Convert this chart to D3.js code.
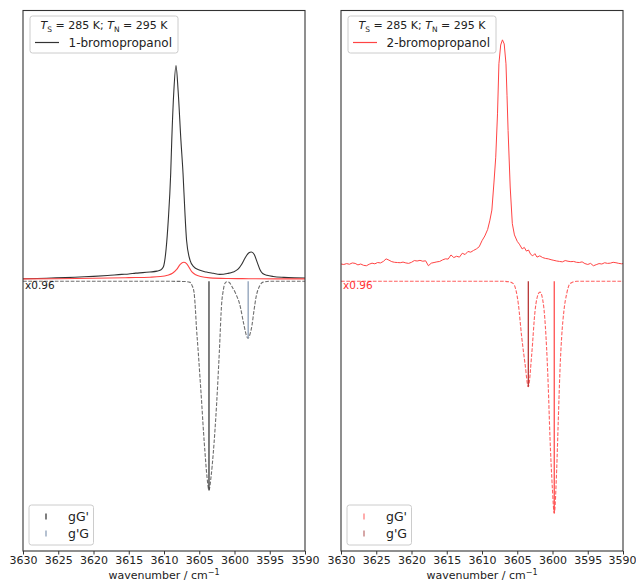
<!DOCTYPE html>
<html><head><meta charset="utf-8">
<script src="https://cdn.jsdelivr.net/npm/d3@7"></script>
<style>body{margin:0;background:#fff;} svg{font-family:"DejaVu Sans",sans-serif;}</style>
</head><body><svg id="c" width="636" height="581"></svg>
<script>
// ---------- data ----------
const xTicks = [3630, 3625, 3620, 3615, 3610, 3605, 3600, 3595, 3590];
const xDomain = [3630, 3590];
const yDomain = [-1.25, 1.255];

// 1-bromopropanol experimental (black)
const bp1Exp = [[3630.0,0.012],[3628.0,0.013],[3626.0,0.015],[3624.0,0.017],[3622.0,0.020],[3620.0,0.023],[3618.0,0.027],[3616.0,0.032],[3615.0,0.034],[3614.0,0.038],[3613.0,0.040],[3612.0,0.043],[3611.0,0.047],[3610.5,0.052],[3610.1,0.066],[3609.7,0.15],[3609.4,0.28],[3609.05,0.50],[3608.9,0.653],[3608.6,0.884],[3608.3,1.0],[3608.0,0.884],[3607.6,0.653],[3607.3,0.50],[3607.05,0.33],[3606.8,0.19],[3606.3,0.097],[3605.8,0.068],[3605.0,0.052],[3604.0,0.043],[3603.0,0.037],[3602.1,0.032],[3601.0,0.036],[3600.2,0.043],[3599.5,0.056],[3599.0,0.078],[3598.5,0.108],[3598.0,0.131],[3597.6,0.136],[3597.2,0.124],[3596.8,0.090],[3596.4,0.055],[3596.0,0.036],[3595.4,0.028],[3594.5,0.022],[3593.0,0.018],[3591.5,0.016],[3590.0,0.015]];
// 2-bromopropanol trace shown in the 1-bromopropanol panel (red)
const bp1Ref = [[3630.0,0.011],[3625.0,0.012],[3620.0,0.014],[3615.0,0.017],[3612.0,0.019],[3610.5,0.022],[3609.5,0.028],[3608.8,0.037],[3608.2,0.055],[3607.7,0.078],[3607.2,0.088],[3606.8,0.082],[3606.4,0.062],[3606.0,0.042],[3605.5,0.030],[3604.8,0.022],[3603.5,0.016],[3601.0,0.013],[3598.0,0.012],[3594.0,0.011],[3590.0,0.011]];
// 1-bromopropanol simulated (x0.96)
const bp1Sim = [[3630.0,0],[3610.0,0],[3607.0,-0.001],[3606.3,-0.005],[3606.03,-0.019],[3605.74,-0.051],[3605.6,-0.102],[3605.39,-0.218],[3605.13,-0.333],[3604.89,-0.449],[3604.65,-0.565],[3604.43,-0.681],[3604.18,-0.796],[3603.9,-0.907],[3603.62,-0.968],[3603.33,-0.907],[3603.01,-0.796],[3602.53,-0.565],[3602.16,-0.333],[3601.82,-0.102],[3601.59,-0.042],[3601.35,-0.009],[3601.06,-0.002],[3600.78,-0.004],[3600.35,-0.025],[3599.79,-0.060],[3599.3,-0.102],[3598.65,-0.204],[3598.37,-0.245],[3598.09,-0.264],[3597.8,-0.245],[3597.52,-0.204],[3597.23,-0.134],[3596.95,-0.075],[3596.38,-0.018],[3595.95,-0.004],[3595.0,0],[3590.0,0]];
const bp1Sticks = [{label:"gG'", wn:3603.62, value:-0.968}, {label:"g'G", wn:3598.06, value:-0.264}];

// 2-bromopropanol experimental (red, noisy)
const bp2Exp = [[3630.0,0.080],[3629.6,0.078],[3629.2,0.082],[3628.8,0.079],[3628.4,0.085],[3628.0,0.083],[3627.6,0.076],[3627.2,0.080],[3626.8,0.074],[3626.4,0.072],[3626.0,0.079],[3625.6,0.084],[3625.2,0.081],[3624.8,0.087],[3624.4,0.085],[3624.0,0.092],[3623.6,0.104],[3623.2,0.098],[3622.8,0.091],[3622.4,0.088],[3622.0,0.087],[3621.6,0.086],[3621.2,0.089],[3620.8,0.085],[3620.4,0.083],[3620.0,0.088],[3619.6,0.096],[3619.2,0.094],[3618.8,0.097],[3618.4,0.093],[3618.0,0.095],[3617.6,0.072],[3617.2,0.084],[3616.8,0.087],[3616.4,0.090],[3616.0,0.092],[3615.6,0.099],[3615.2,0.104],[3614.8,0.103],[3614.4,0.122],[3614.0,0.110],[3613.6,0.116],[3613.2,0.112],[3612.8,0.130],[3612.4,0.124],[3612.0,0.138],[3611.6,0.135],[3611.2,0.143],[3610.8,0.150],[3610.4,0.160],[3610.0,0.188],[3609.6,0.210],[3609.2,0.240],[3608.9,0.280],[3608.6,0.330],[3608.3,0.460],[3608.05,0.575],[3607.8,0.776],[3607.6,1.008],[3607.35,1.095],[3607.1,1.119],[3606.85,1.100],[3606.6,1.008],[3606.45,0.860],[3606.3,0.699],[3606.0,0.437],[3605.7,0.267],[3605.4,0.215],[3605.0,0.185],[3604.7,0.172],[3604.3,0.150],[3604.0,0.157],[3603.7,0.140],[3603.4,0.145],[3603.1,0.125],[3602.8,0.118],[3602.5,0.128],[3602.2,0.112],[3601.8,0.118],[3601.4,0.110],[3601.0,0.106],[3600.6,0.104],[3600.2,0.100],[3599.8,0.097],[3599.4,0.094],[3599.0,0.092],[3598.6,0.090],[3598.2,0.096],[3597.8,0.093],[3597.4,0.091],[3597.0,0.092],[3596.6,0.088],[3596.2,0.087],[3595.8,0.090],[3595.4,0.082],[3595.0,0.078],[3594.6,0.083],[3594.2,0.072],[3593.8,0.077],[3593.4,0.082],[3593.0,0.080],[3592.6,0.086],[3592.2,0.083],[3591.8,0.084],[3591.4,0.088],[3591.0,0.086],[3590.6,0.083],[3590.2,0.081],[3590.0,0.082]];
// 2-bromopropanol simulated (x0.96)
const bp2Sim = [[3630.0,0],[3607.0,0],[3606.2,-0.002],[3605.56,-0.011],[3604.85,-0.104],[3604.37,-0.258],[3603.9,-0.381],[3603.43,-0.489],[3602.95,-0.339],[3602.48,-0.139],[3602.01,-0.058],[3601.77,-0.050],[3601.3,-0.104],[3600.92,-0.258],[3600.6,-0.489],[3600.36,-0.720],[3600.03,-0.952],[3599.75,-1.075],[3599.41,-0.875],[3599.18,-0.644],[3598.94,-0.412],[3598.7,-0.258],[3598.37,-0.134],[3597.99,-0.058],[3597.52,-0.011],[3596.57,0],[3590.0,0]];
const bp2Sticks = [{label:"g'G", wn:3603.43, value:-0.489}, {label:"gG'", wn:3599.75, value:-1.075}];

const legendTitle = ["T", "S", " = 285 K; ", "T", "N", " = 295 K"];
const seriesNames = ["1-bromopropanol", "2-bromopropanol"];
const scaleNote = "x0.96";

// ---------- drawing ----------
const svg = d3.select("#c");
const plotTop = 10.5, plotBottom = 551;
const y = d3.scaleLinear().domain(yDomain).range([plotBottom, plotTop]);

const panels = [
  {x0:23, x1:305, exp:[{d:bp1Exp,c:"#333333",w:1.1,curve:d3.curveMonotoneX},{d:bp1Ref,c:"#ff4444",w:1.1,curve:d3.curveMonotoneX}],
   sim:bp1Sim, simColor:"#555555", noteColor:"#222",
   sticks:bp1Sticks, stickColors:{"gG'":"#3a3a3a","g'G":"#8da0b8"},
   legendOrder:["gG'","g'G"], name:seriesNames[0], nameColor:"#333333"},
  {x0:341, x1:623, exp:[{d:bp2Exp,c:"#ff4444",w:1.0,curve:d3.curveLinear}],
   sim:bp2Sim, simColor:"#ff4444", noteColor:"#ff3333",
   sticks:bp2Sticks, stickColors:{"gG'":"#ff5050","g'G":"#b83535"},
   legendColors:{"gG'":"#ff8080","g'G":"#c07878"},
   legendOrder:["gG'","g'G"], name:seriesNames[1], nameColor:"#ff4444"}
];

panels.forEach((p, i) => {
  const x = d3.scaleLinear().domain(xDomain).range([p.x0, p.x1]);
  const g = svg.append("g");
  const clipId = "clip" + i;
  svg.append("clipPath").attr("id", clipId).append("rect")
    .attr("x", p.x0).attr("y", plotTop).attr("width", p.x1 - p.x0).attr("height", plotBottom - plotTop);
  const plot = g.append("g").attr("clip-path", `url(#${clipId})`);

  // simulated dashed
  plot.append("path").datum(p.sim)
    .attr("d", d3.line().x(d => x(d[0])).y(d => y(d[1])).curve(d3.curveMonotoneX))
    .attr("fill", "none").attr("stroke", p.simColor).attr("stroke-width", 1.1)
    .attr("stroke-dasharray", "3.7,1.6").attr("opacity", 0.85);

  // sticks
  p.sticks.forEach(s => {
    plot.append("line").attr("x1", x(s.wn)).attr("x2", x(s.wn))
      .attr("y1", y(0)).attr("y2", y(s.value))
      .attr("stroke", p.stickColors[s.label]).attr("stroke-width", 1.3);
  });

  // experimental
  p.exp.forEach(e => {
    plot.append("path").datum(e.d)
      .attr("d", d3.line().x(d => x(d[0])).y(d => y(d[1])).curve(e.curve))
      .attr("fill", "none").attr("stroke", e.c).attr("stroke-width", e.w).attr("stroke-linejoin","round");
  });

  // scale note
  g.append("text").attr("x", p.x0 + 2).attr("y", y(0) + 7.5)
    .attr("font-size", 10.5).attr("fill", p.noteColor).text(scaleNote);

  // frame
  g.append("rect").attr("x", p.x0).attr("y", plotTop).attr("width", p.x1 - p.x0).attr("height", plotBottom - plotTop)
    .attr("fill", "none").attr("stroke", "#333").attr("stroke-width", 1.1);

  // x axis
  const ax = g.append("g").attr("transform", `translate(0,${plotBottom})`)
    .call(d3.axisBottom(x).tickValues(xTicks).tickFormat(d3.format("d")).tickSize(3.5).tickPadding(2));
  ax.select(".domain").remove();
  ax.selectAll("line").attr("stroke", "#333");
  ax.selectAll("text").attr("font-size", 11).attr("fill", "#222").attr("font-family", "DejaVu Sans");
  if (i === 1) ax.selectAll("text").filter(d => d === 3590).attr("dx", -1);

  const lab = g.append("text").attr("x", (p.x0 + p.x1) / 2).attr("y", 579).attr("text-anchor", "middle")
    .attr("font-size", 11).attr("fill", "#222");
  lab.append("tspan").text("wavenumber / cm");
  lab.append("tspan").attr("dy", -4.5).attr("font-size", 8).text("\u22121");

  // top legend
  const lx = p.x0 + 7, ly = 16;
  g.append("rect").attr("x", lx).attr("y", ly).attr("width", 148).attr("height", 37).attr("rx", 2.5)
    .attr("fill", "white").attr("fill-opacity", 0.85).attr("stroke", "#cccccc");
  const t = g.append("text").attr("x", lx + 74).attr("y", ly + 13).attr("text-anchor", "middle")
    .attr("font-size", 11).attr("fill", "#222");
  t.append("tspan").attr("font-style", "italic").text(legendTitle[0]);
  t.append("tspan").attr("font-size", 7.5).attr("dy", 2.5).text(legendTitle[1]);
  t.append("tspan").attr("dy", -2.5).text(legendTitle[2]);
  t.append("tspan").attr("font-style", "italic").text(legendTitle[3]);
  t.append("tspan").attr("font-size", 7.5).attr("dy", 2.5).text(legendTitle[4]);
  t.append("tspan").attr("dy", -2.5).text(legendTitle[5]);
  g.append("line").attr("x1", lx + 5).attr("x2", lx + 29).attr("y1", ly + 26.5).attr("y2", ly + 26.5)
    .attr("stroke", p.nameColor).attr("stroke-width", 1.2);
  g.append("text").attr("x", lx + 38.5).attr("y", ly + 30.5).attr("font-size", 12).attr("fill", "#222").text(p.name);

  // bottom legend (sticks)
  const bx = p.x0 + 6, by = 505;
  g.append("rect").attr("x", bx).attr("y", by).attr("width", 64.5).attr("height", 40).attr("rx", 2.5)
    .attr("fill", "white").attr("fill-opacity", 0.85).attr("stroke", "#cccccc");
  p.legendOrder.forEach((lbl, k) => {
    const cy = by + 11.5 + k * 17;
    const col = p.legendColors ? p.legendColors[lbl] : p.stickColors[lbl];
    g.append("line").attr("x1", bx + 17).attr("x2", bx + 17).attr("y1", cy - 3).attr("y2", cy + 3)
      .attr("stroke", col).attr("stroke-width", 1.3);
    g.append("text").attr("x", bx + 39).attr("y", cy + 4.5).attr("font-size", 12.5).attr("fill", "#222").text(lbl);
  });
});
</script></body></html>
